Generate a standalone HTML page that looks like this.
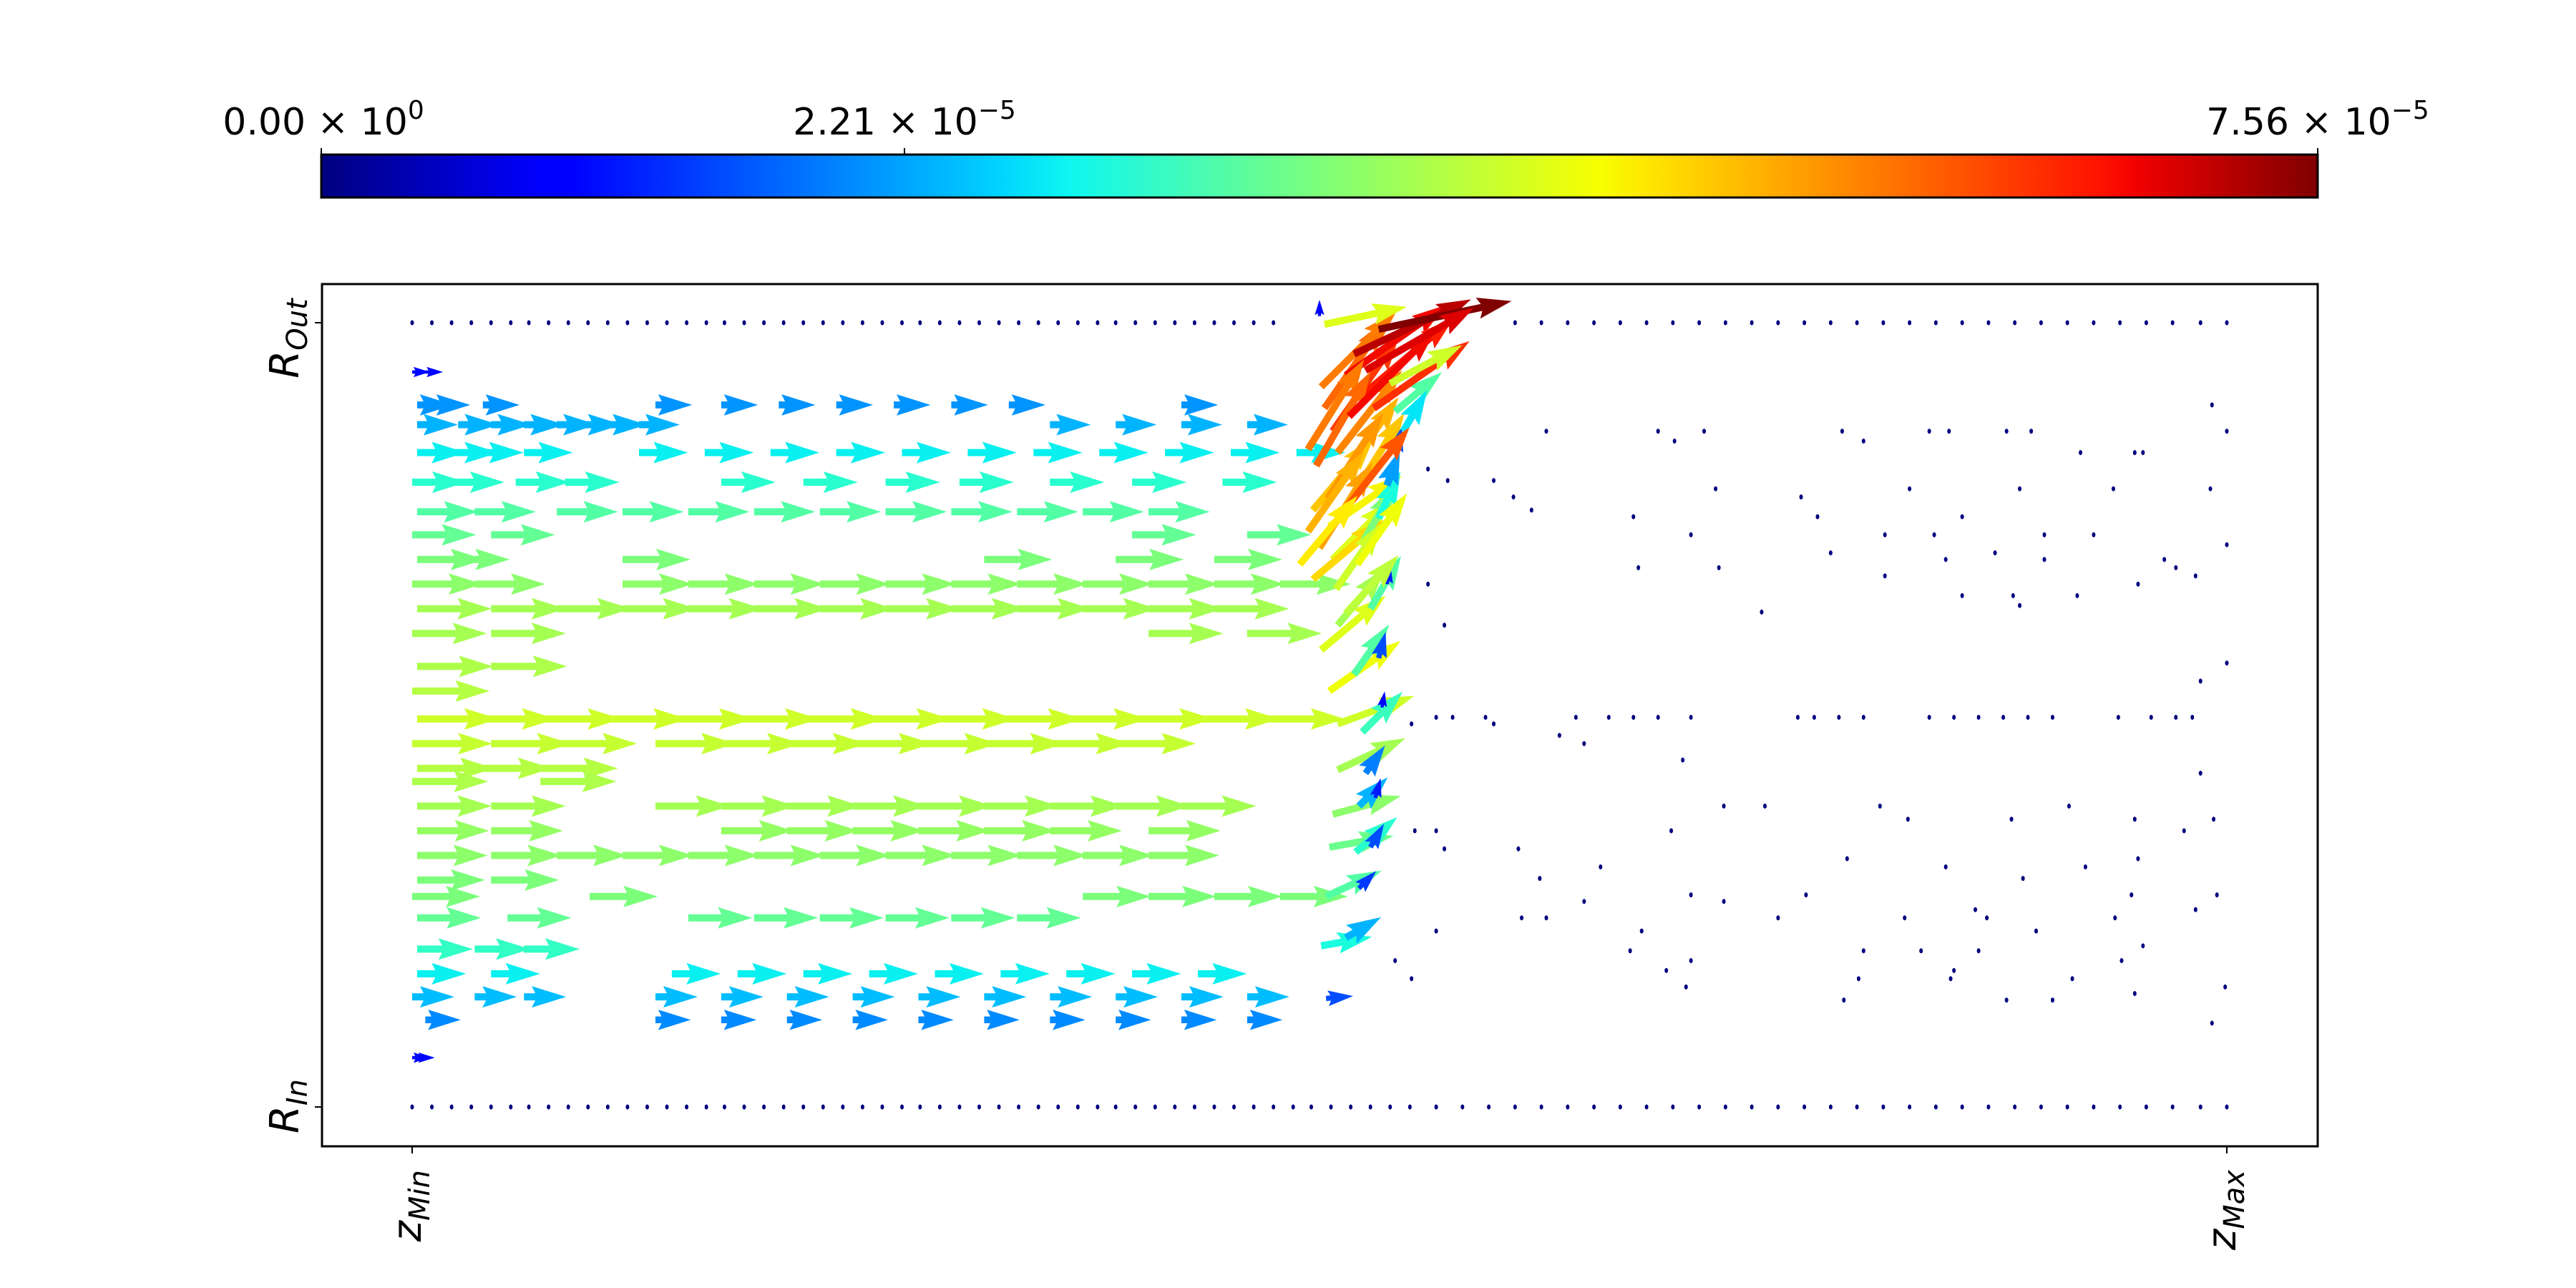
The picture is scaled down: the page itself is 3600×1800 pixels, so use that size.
<!DOCTYPE html>
<html><head><meta charset="utf-8"><style>
html,body{margin:0;padding:0;background:#fff;}
svg{display:block;}
text{font-family:"DejaVu Sans","Liberation Sans",sans-serif;fill:#000;}
</style></head><body>
<svg id="chart" width="3600" height="1800" viewBox="0 0 3600 1800" xmlns="http://www.w3.org/2000/svg">
<defs>
<linearGradient id="jetgrad" x1="0" x2="1" y1="0" y2="0">
<stop offset="0" stop-color="#00007f"/><stop offset="0.11" stop-color="#0000ff"/><stop offset="0.125" stop-color="#0000ff"/>
<stop offset="0.34" stop-color="#00d4ff"/><stop offset="0.375" stop-color="#0ff7f0"/><stop offset="0.5" stop-color="#7dff7a"/>
<stop offset="0.64" stop-color="#f7ff00"/><stop offset="0.66" stop-color="#ffea00"/><stop offset="0.89" stop-color="#ff1300"/>
<stop offset="0.91" stop-color="#f00000"/><stop offset="1" stop-color="#7f0000"/>
</linearGradient>
</defs>
<g>
<rect x="449" y="216" width="2790" height="60" fill="url(#jetgrad)" stroke="#000" stroke-width="3"/>
<line x1="449" y1="207" x2="449" y2="216" stroke="#000" stroke-width="2"/>
<line x1="1264" y1="207" x2="1264" y2="216" stroke="#000" stroke-width="2"/>
<line x1="3239" y1="207" x2="3239" y2="216" stroke="#000" stroke-width="2"/>
<text x="452" y="188" font-size="52" text-anchor="middle">0.00 × 10<tspan font-size="36" dy="-22">0</tspan></text>
<text x="1264" y="188" font-size="52" text-anchor="middle">2.21 × 10<tspan font-size="36" dy="-22">−5</tspan></text>
<text x="3239" y="188" font-size="52" text-anchor="middle">7.56 × 10<tspan font-size="36" dy="-22">−5</tspan></text>
</g>
<g id="marks"></g>
<rect x="450" y="397" width="2789" height="1205" fill="none" stroke="#000" stroke-width="3"/>
<line x1="440" y1="451" x2="450" y2="451" stroke="#000" stroke-width="2"/>
<line x1="440" y1="1547" x2="450" y2="1547" stroke="#000" stroke-width="2"/>
<line x1="576" y1="1602" x2="576" y2="1612" stroke="#000" stroke-width="2"/>
<line x1="3112" y1="1602" x2="3112" y2="1612" stroke="#000" stroke-width="2"/>
<text transform="translate(417,473) rotate(-90)" font-size="56" font-style="italic" text-anchor="middle">R<tspan font-size="40" dy="12">Out</tspan></text>
<text transform="translate(417,1546) rotate(-90)" font-size="56" font-style="italic" text-anchor="middle">R<tspan font-size="40" dy="12">In</tspan></text>
<text transform="translate(588,1635) rotate(-90)" font-size="56" font-style="italic" text-anchor="end">z<tspan font-size="40" dy="12">Min</tspan></text>
<text transform="translate(3124,1635) rotate(-90)" font-size="56" font-style="italic" text-anchor="end">z<tspan font-size="40" dy="12">Max</tspan></text>
</svg>
<script>
// data domain: z in [0,1104] (zMin..zMax), r in [0,477] (RIn..ROut); magnitudes as fraction of max (7.56e-5)
const rowR = [447,427,415,398,380,362,348,333,318,303,288,268,253,236,221,206,198,183,168,153,138,128,115,96,81,67,53,30];
const rowM = [0.13,0.27,0.3,0.36,0.4,0.45,0.47,0.5,0.52,0.55,0.55,0.56,0.57,0.6,0.59,0.57,0.56,0.55,0.53,0.52,0.5,0.5,0.47,0.41,0.36,0.31,0.26,0.13];
const rowZ = [
[0,8],
[3,13,43,148,188,223,258,293,328,363,468],
[3,28,48,68,88,103,118,138,388,428,468,508],
[3,23,38,68,138,178,218,258,298,338,378,418,458,498,538],
[0,23,63,93,188,238,288,333,388,438,493],
[3,38,88,128,168,208,248,288,328,368,408,448],
[0,48,438,508],
[3,18,128,348,428,488],
[0,38,128,168,208,248,288,328,368,408,448,488,528],
[3,48,88,128,168,208,248,288,328,368,408,448,488],
[0,48,448,508],
[3,48],
[0],
[3,38,78,118,158,198,238,278,318,358,398,438,478,518],
[0,48,88,148,188,228,268,308,348,388,428],
[3,38,78],
[0,78],
[3,48,148,188,228,268,308,348,388,428,468],
[3,48,188,228,268,308,348,388,448],
[3,48,88,128,168,208,248,288,328,368,408,448],
[3,48],
[0,108,408,448,488,528],
[3,58,168,208,248,288,328,368],
[3,38,68],
[3,48,158,198,238,278,318,358,398,438,478],
[0,38,68,148,188,228,268,308,348,388,428,468,508],
[8,148,188,228,268,308,348,388,428,468,508],
[0,3]
];
const ifaceZ = [555,560,563,553,568,573,588,578,566,573,548,558,560,548,578,588,593,598,553,563,583,593,558,573,588,563,578,590,563,580,560,576,586,558,574,583,556,576,553,568,556,552,555,598,603,545,550,557,545,552,565,570,580,585,595,540,562,575,568];
const ifaceR = [425,411,398,438,445,458,473,433,383,373,363,353,333,321,343,358,378,398,278,293,303,318,253,263,273,233,228,243,205,203,178,183,188,158,155,158,128,133,98,103,66,481,476,423,411,400,390,370,350,340,360,420,448,425,440,330,315,330,300];
const ifaceAngle = [55,55,52,45,35,25,12,40,55,58,50,35,45,40,60,65,70,75,40,50,60,80,35,55,75,20,45,80,25,55,15,45,75,10,40,60,25,45,10,30,5,90,12,40,60,58,60,57,55,58,52,45,30,35,28,50,55,55,48];
const ifaceM = [0.8,0.85,0.77,0.78,0.9,0.95,1.0,0.88,0.72,0.7,0.7,0.65,0.62,0.68,0.5,0.38,0.28,0.2,0.62,0.55,0.45,0.15,0.64,0.45,0.2,0.6,0.42,0.12,0.55,0.25,0.52,0.3,0.15,0.48,0.4,0.2,0.45,0.18,0.38,0.3,0.2,0.12,0.62,0.45,0.35,0.78,0.8,0.75,0.72,0.74,0.82,0.9,0.92,0.86,0.6,0.66,0.6,0.64,0.58];
const wallZ = [0,12,24,36,48,60,71,83,95,107,119,131,143,155,167,179,190,202,214,226,238,250,262,274,286,298,309,321,333,345,357,369,381,393,405,417,428,440,452,464,476,488,500,512,524,536,547,559,571,583,595,607,623,639,655,671,687,703,719,735,751,767,783,799,815,831,847,863,879,895,911,927,943,959,975,991,1007,1023,1039,1055,1071,1088,1104];
const wallR = [477,0];
const dotRowR = [427,411,405,398,388,381,376,371,363,359,348,342,337,333,328,323,318,311,305,301,293,270,259,237,233,226,221,211,203,183,175,168,157,151,146,139,129,125,120,115,107,98,95,89,83,78,73,69,65,51];
const dotRowZ = [
[1095],[690,758,786,870,923,935,970,985,1104],[768,883],[1015,1048,1053],[618],[630,658],
[793,911,978,1035,1094],[670,845],[681],[743,855,943],[778,896,926,993,1023],[1104],[863,963],
[933,993,1066],[746,795,1073],[896,1085],[618,1050],[943,974,1013],[978],[821],[628],[1104],[1088],
[623,633,653,708,728,743,758,778,843,853,868,883,923,938,953,968,983,998,1038,1058,1073,1083],
[608,658],[698],[713],[773],[1088],[798,823,893,1008],[910,973,1048,1096],[610,623,766,1078],
[628,673],[873,1050],[723,933,1018],[686,980],[778,848,1046,1098],[713,798],[951,1085],
[675,690,831,908,958,1036],[623,748,988],[1053],[741,883,918,953],[598,778,1040],[763,938],
[608,880,936,1010],[775,1103],[1048],[871,970,998],[1095]
];

const X0=576, X1=3112, Y0=1547, Y1=451, ZMAX=1104, RMAX=477, LSCALE=190;
function xs(z){return X0+z*(X1-X0)/ZMAX;}
function ys(r){return Y0-r*(Y0-Y1)/RMAX;}
function interp(pts,t){for(let i=1;i<pts.length;i++){if(t<=pts[i][0]){const a=pts[i-1],b=pts[i];return a[1]+(b[1]-a[1])*(t-a[0])/(b[0]-a[0]);}}return pts[pts.length-1][1];}
function jet(t){t=Math.max(0,Math.min(1,t));
const r=interp([[0,0],[0.35,0],[0.66,1],[0.89,1],[1,0.5]],t);
const g=interp([[0,0],[0.125,0],[0.375,1],[0.64,1],[0.91,0],[1,0]],t);
const b=interp([[0,0.5],[0.11,1],[0.34,1],[0.65,0],[1,0]],t);
return 'rgb('+Math.round(r*255)+','+Math.round(g*255)+','+Math.round(b*255)+')';}
const NS='http://www.w3.org/2000/svg';
const marks=document.getElementById('marks');
function arrow(z,r,m,angDeg,name){
  const x=xs(z), y=ys(r);
  let L=m*LSCALE, w=10, hw=30, hl=48, ha=43;
  if(L<hl+4){const s=L/(hl+4); w*=s; hw*=s; hl*=s; ha*=s;}
  const pts=[[0,-w/2],[L-ha,-w/2],[L-hl,-hw/2],[L,0],[L-hl,hw/2],[L-ha,w/2],[0,w/2]];
  const a=-angDeg*Math.PI/180, c=Math.cos(a), s=Math.sin(a);
  const p=document.createElementNS(NS,'polygon');
  p.setAttribute('points',pts.map(q=>(x+q[0]*c-q[1]*s).toFixed(1)+','+(y+q[0]*s+q[1]*c).toFixed(1)).join(' '));
  p.setAttribute('fill',jet(m));
  
  
  marks.appendChild(p);
}
function dot(z,r,name){
  const e=document.createElementNS(NS,'ellipse');
  e.setAttribute('cx',xs(z)); e.setAttribute('cy',ys(r)); e.setAttribute('rx',2.5); e.setAttribute('ry',3.5);
  e.setAttribute('fill','#00007f');
  
  
  marks.appendChild(e);
}
wallR.forEach(r=>wallZ.forEach(z=>{ if(!(r===477 && z>535 && z<660)) dot(z,r,'wall-point'); }));
dotRowR.forEach((r,i)=>dotRowZ[i].forEach(z=>dot(z,r,'zero-vector-point')));
rowR.forEach((r,i)=>rowZ[i].forEach(z=>arrow(z,r,rowM[i],0,'velocity-arrow')));
ifaceZ.forEach((z,i)=>arrow(z,ifaceR[i],ifaceM[i],ifaceAngle[i],'interface-arrow'));
</script>
</body></html>
